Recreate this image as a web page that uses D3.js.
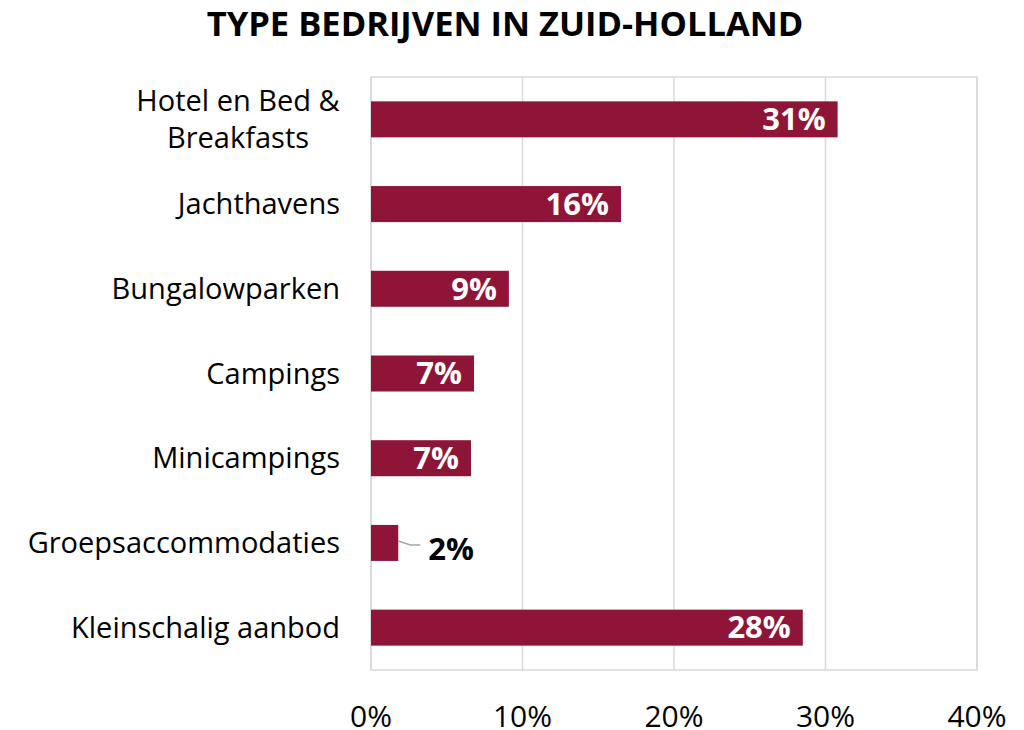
<!DOCTYPE html>
<html>
<head>
<meta charset="utf-8">
<script src="https://cdn.jsdelivr.net/npm/d3@7"></script>
<style>
  body { margin: 0; background: #fff; }
  svg text { font-family: 'Open Sans', sans-serif; }
</style>
</head>
<body>
<div id="chart"></div>
<script>
const categories = [
  ['Hotel en Bed &', 'Breakfasts'],
  ['Jachthavens'],
  ['Bungalowparken'],
  ['Campings'],
  ['Minicampings'],
  ['Groepsaccommodaties'],
  ['Kleinschalig aanbod'],
];
const values = [30.8, 16.5, 9.1, 6.8, 6.6, 1.8, 28.5];
const valueLabels = ['31%', '16%', '9%', '7%', '7%', '2%', '28%'];
const ticks = [0, 10, 20, 30, 40];

const BAR = '#8e1537';
const GRID = '#d9d9d9';

const width = 1024, height = 730;
const margin = { top: 77, right: 47, bottom: 60, left: 371 };

const svg = d3.select('#chart')
  .append('svg')
  .attr('width', width)
  .attr('height', height);

const x = d3.scaleLinear().domain([0, 40]).range([margin.left, width - margin.right]);
const y = d3.scaleBand()
  .domain(d3.range(categories.length))
  .range([margin.top, height - margin.bottom])
  .paddingInner(0.575)
  .paddingOuter(0.2875);

// title
svg.append('text')
  .attr('x', 505)
  .attr('y', 36)
  .attr('text-anchor', 'middle')
  .attr('font-size', 34.5)
  .attr('font-weight', 'bold')
  .attr('fill', '#000')
  .text('TYPE BEDRIJVEN IN ZUID-HOLLAND');

// gridlines + frame
svg.append('g')
  .selectAll('line')
  .data(ticks)
  .join('line')
  .attr('x1', d => x(d)).attr('x2', d => x(d))
  .attr('y1', margin.top).attr('y2', height - margin.bottom)
  .attr('stroke', GRID).attr('stroke-width', 1.5);

svg.append('rect')
  .attr('x', x(0)).attr('y', margin.top)
  .attr('width', x(40) - x(0))
  .attr('height', height - margin.bottom - margin.top)
  .attr('fill', 'none')
  .attr('stroke', GRID).attr('stroke-width', 1.5);

// x tick labels
svg.append('g')
  .selectAll('text')
  .data(ticks)
  .join('text')
  .attr('x', d => x(d))
  .attr('y', 727)
  .attr('text-anchor', 'middle')
  .attr('font-size', 30)
  .attr('fill', '#000')
  .text(d => d + '%');

// bars
svg.append('g')
  .selectAll('rect')
  .data(values)
  .join('rect')
  .attr('x', x(0))
  .attr('y', (d, i) => y(i))
  .attr('width', d => x(d) - x(0))
  .attr('height', y.bandwidth())
  .attr('fill', BAR);

// category labels (multi-line ones are centred on their block, like the original)
const cat = svg.append('g')
  .selectAll('text')
  .data(categories)
  .join('text')
  .attr('font-size', 29)
  .attr('fill', '#000')
  .attr('text-anchor', d => d.length > 1 ? 'middle' : 'end')
  .attr('transform', (d, i) => {
    const cy = y(i) + y.bandwidth() / 2;
    const lx = d.length > 1 ? 238 : 340;
    return `translate(${lx},${cy - (d.length - 1) * 19})`;
  });
cat.selectAll('tspan')
  .data(d => d)
  .join('tspan')
  .attr('x', 0)
  .attr('dy', (d, j) => j === 0 ? '0.35em' : 38)
  .text(d => d);

// value labels
const outside = d => d < 3;
svg.append('g')
  .selectAll('text')
  .data(values)
  .join('text')
  .attr('x', d => outside(d) ? x(d) + 30 : x(d) - 12)
  .attr('y', (d, i) => y(i) + y.bandwidth() / 2 + (outside(d) ? 6 : 0))
  .attr('dy', '0.35em')
  .attr('text-anchor', d => outside(d) ? 'start' : 'end')
  .attr('font-size', 31)
  .attr('font-weight', 'bold')
  .attr('fill', d => outside(d) ? '#000' : '#fff')
  .text((d, i) => valueLabels[i]);

// leader line for the small label
svg.append('g')
  .selectAll('path')
  .data(values.map((v, i) => ({ v, i })).filter(d => outside(d.v)))
  .join('path')
  .attr('d', d => {
    const cy = y(d.i) + y.bandwidth() / 2;
    return `M${x(d.v)},${cy - 2} L${x(d.v) + 12},${cy + 2} L${x(d.v) + 22},${cy + 2}`;
  })
  .attr('fill', 'none')
  .attr('stroke', '#a6a6a6')
  .attr('stroke-width', 1.5);
</script>
</body>
</html>
